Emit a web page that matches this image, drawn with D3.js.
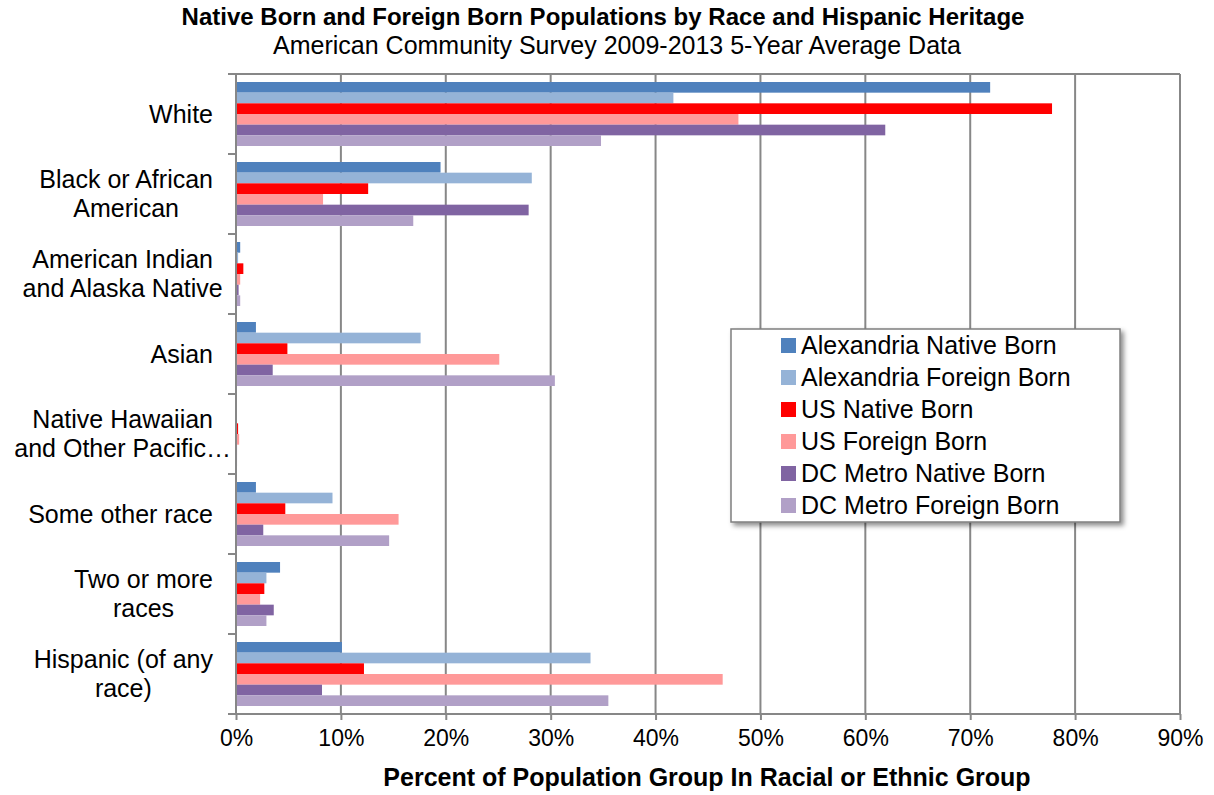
<!DOCTYPE html>
<html>
<head>
<meta charset="utf-8">
<script src="https://cdn.jsdelivr.net/npm/d3@7"></script>
<style>
  body { margin: 0; background: #fff; }
  text { font-family: "Liberation Sans", Arial, sans-serif; fill: #000; }
</style>
</head>
<body>
<div id="chart"></div>
<script>
// Race / ethnic groups, top to bottom
var categories = [
    ["White"],
    ["Black or African", "American"],
    ["American Indian", "and Alaska Native"],
    ["Asian"],
    ["Native Hawaiian", "and Other Pacific\u2026"],
    ["Some other race"],
    ["Two or more", "races"],
    ["Hispanic (of any", "race)"]
];

var seriesNames = [
    "Alexandria Native Born",
    "Alexandria Foreign Born",
    "US Native Born",
    "US Foreign Born",
    "DC Metro Native Born",
    "DC Metro Foreign Born"
];

var seriesColors = ["#4f81bd", "#95b3d7", "#ff0000", "#ff9999", "#8064a2", "#b1a0c7"];

// percent values per series, same order as categories
var alexNative  = [71.9, 19.5, 0.4, 1.9, 0.05, 1.9, 4.2, 10.1];
var alexForeign = [41.7, 28.2, 0.2, 17.6, 0.05, 9.2, 2.9, 33.8];
var usNative    = [77.8, 12.6, 0.7, 4.9, 0.2, 4.7, 2.7, 12.2];
var usForeign   = [47.9, 8.3, 0.4, 25.1, 0.3, 15.5, 2.3, 46.4];
var dcNative    = [61.9, 27.9, 0.25, 3.5, 0.1, 2.6, 3.6, 8.2];
var dcForeign   = [34.8, 16.9, 0.4, 30.4, 0.1, 14.6, 2.9, 35.5];

var seriesValues = [alexNative, alexForeign, usNative, usForeign, dcNative, dcForeign];

var xTicks = [0, 10, 20, 30, 40, 50, 60, 70, 80, 90];

(function() {
    var width = 1214, height = 795;
    var plotLeft = 236, plotRight = 1180, plotTop = 74, plotBottom = 714;
    var gridColor = "#878787";

    var svg = d3.select("#chart")
                .append("svg")
                .attr("width", width)
                .attr("height", height);

    var shadow = svg.append("defs").append("filter").attr("id", "shadow")
                    .attr("x", "-10%").attr("y", "-10%")
                    .attr("width", "130%").attr("height", "130%");
    shadow.append("feDropShadow")
          .attr("dx", 3).attr("dy", 3)
          .attr("stdDeviation", 2.5)
          .attr("flood-color", "#000")
          .attr("flood-opacity", 0.45);

    // Titles
    svg.append("text")
       .attr("x", 603).attr("y", 25)
       .attr("text-anchor", "middle")
       .style("font-weight", "bold")
       .style("font-size", "24px")
       .text("Native Born and Foreign Born Populations by Race and Hispanic Heritage");

    svg.append("text")
       .attr("x", 617).attr("y", 54)
       .attr("text-anchor", "middle")
       .style("font-size", "25px")
       .text("American Community Survey 2009-2013 5-Year Average Data");

    // Scales
    var x = d3.scaleLinear().domain([0, 90]).range([plotLeft, plotRight]);

    var y0 = d3.scaleBand()
               .domain(d3.range(categories.length))
               .range([plotTop, plotBottom]);

    var y1 = d3.scaleBand()
               .domain(d3.range(seriesNames.length))
               .range([8, y0.bandwidth() - 8]);

    // Gridlines
    svg.append("g")
       .selectAll("line")
       .data(xTicks.slice(1))
       .enter()
       .append("line")
       .attr("x1", function(d) { return x(d); })
       .attr("x2", function(d) { return x(d); })
       .attr("y1", plotTop).attr("y2", plotBottom)
       .attr("stroke", gridColor)
       .attr("stroke-width", 2);

    // top border
    svg.append("line")
       .attr("x1", plotLeft - 8).attr("x2", plotRight)
       .attr("y1", plotTop).attr("y2", plotTop)
       .attr("stroke", gridColor)
       .attr("stroke-width", 2);

    // Bars
    var groups = svg.append("g")
        .selectAll("g")
        .data(categories)
        .enter()
        .append("g")
        .attr("transform", function(d, i) { return "translate(0," + y0(i) + ")"; });

    groups.selectAll("rect")
        .data(function(d, i) {
            return seriesValues.map(function(s, k) { return { k: k, v: s[i] }; });
        })
        .enter()
        .append("rect")
        .attr("x", x(0))
        .attr("y", function(d) { return y1(d.k); })
        .attr("width", function(d) { return x(d.v) - x(0); })
        .attr("height", y1.bandwidth())
        .attr("fill", function(d) { return seriesColors[d.k]; });

    // X axis
    var xAxis = svg.append("g")
        .attr("transform", "translate(0," + plotBottom + ")")
        .call(d3.axisBottom(x).tickValues(xTicks)
                .tickFormat(function(d) { return d + "%"; })
                .tickSize(6).tickPadding(10));
    xAxis.select(".domain").attr("stroke", gridColor).attr("stroke-width", 2)
         .attr("d", "M" + (plotLeft - 8) + ",0H" + plotRight);
    xAxis.selectAll(".tick line").attr("stroke", gridColor).attr("stroke-width", 2);
    xAxis.selectAll(".tick text")
         .style("font-size", "23px")
         .style("font-family", "'Liberation Sans', Arial, sans-serif")
         .attr("fill", "#000");

    // Y axis line and ticks at category boundaries
    svg.append("line")
       .attr("x1", plotLeft).attr("x2", plotLeft)
       .attr("y1", plotTop).attr("y2", plotBottom)
       .attr("stroke", gridColor).attr("stroke-width", 2);

    svg.append("g")
       .selectAll("line")
       .data(d3.range(categories.length + 1))
       .enter()
       .append("line")
       .attr("x1", plotLeft - 8).attr("x2", plotLeft)
       .attr("y1", function(d) { return plotTop + d * y0.bandwidth(); })
       .attr("y2", function(d) { return plotTop + d * y0.bandwidth(); })
       .attr("stroke", gridColor).attr("stroke-width", 2);

    // Category labels: block right-aligned at 213, lines centred on first line
    var labelRight = 213, lineGap = 29;
    categories.forEach(function(lines, i) {
        var cy = y0(i) + y0.bandwidth() / 2;
        var y = cy - (lines.length - 1) * lineGap / 2;
        var t = svg.append("text")
                   .style("font-size", "25px")
                   .attr("text-anchor", "end")
                   .attr("x", labelRight)
                   .attr("y", y)
                   .attr("dy", "0.35em")
                   .text(lines[0]);
        if (lines.length > 1) {
            var w = t.node().getComputedTextLength();
            var cx = labelRight - w / 2;
            t.attr("text-anchor", "middle").attr("x", cx);
            for (var j = 1; j < lines.length; j++) {
                svg.append("text")
                   .style("font-size", "25px")
                   .attr("text-anchor", "middle")
                   .attr("x", cx)
                   .attr("y", y + j * lineGap)
                   .attr("dy", "0.35em")
                   .text(lines[j]);
            }
        }
    });

    // Axis title
    svg.append("text")
       .attr("x", 707).attr("y", 786)
       .attr("text-anchor", "middle")
       .style("font-weight", "bold")
       .style("font-size", "25px")
       .text("Percent of Population Group In Racial or Ethnic Group");

    // Legend
    var legend = svg.append("g").attr("transform", "translate(731,329)");
    legend.append("rect")
          .attr("width", 389).attr("height", 193)
          .attr("fill", "#fff")
          .attr("stroke", "#7f7f7f")
          .attr("stroke-width", 1.5)
          .attr("filter", "url(#shadow)");

    var item = legend.selectAll("g.item")
        .data(seriesNames)
        .enter()
        .append("g")
        .attr("class", "item")
        .attr("transform", function(d, i) { return "translate(0," + (16 + i * 32) + ")"; });

    item.append("rect")
        .attr("x", 50).attr("y", -7)
        .attr("width", 15).attr("height", 15)
        .attr("fill", function(d, i) { return seriesColors[i]; });

    item.append("text")
        .attr("x", 70)
        .attr("dy", "0.35em")
        .style("font-size", "25px")
        .text(function(d) { return d; });
})();
</script>
</body>
</html>
